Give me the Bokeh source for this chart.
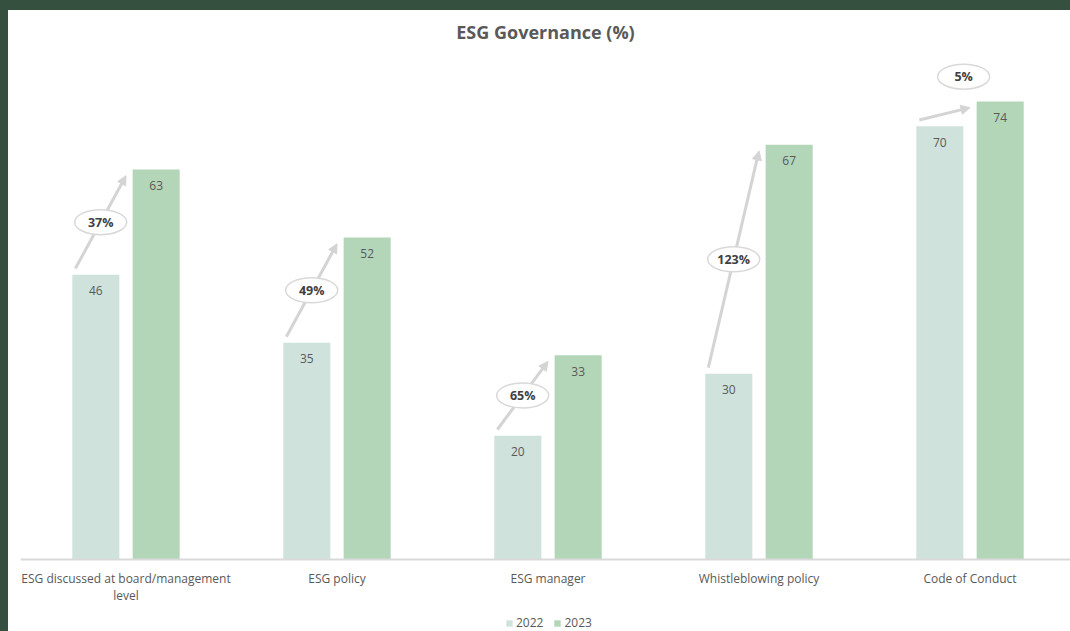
from bokeh.plotting import figure
from bokeh.models import ColumnDataSource, Range1d, Span, Arrow, NormalHead, Legend, LegendItem
from bokeh.transform import dodge
from bokeh.core.properties import value
from bokeh.embed import file_html
from bokeh.resources import INLINE

# ---- data ----
categories = ["ESG discussed at board/management\nlevel", "ESG policy", "ESG manager",
              "Whistleblowing policy", "Code of Conduct"]
values_2022 = [46, 35, 20, 30, 70]
values_2023 = [63, 52, 33, 67, 74]
change_labels = ["37%", "49%", "65%", "123%", "5%"]
series_names = ["2022", "2023"]

FONT = "Open Sans"
TXT = "#595959"
C22 = "#d0e2dc"
C23 = "#b3d6b9"
PX_PER_UNIT = 6.19

W, H = 1062, 621
left_border, top_border = 12, 40
frame_w = W - left_border
frame_h = H - top_border
cat_px = 211.0
base_from_top = 549 - top_border  # pixels from frame top to baseline

n = len(categories)
xs = list(range(n))
x_start = -0.5
x_end = x_start + frame_w / cat_px
y_end = base_from_top / PX_PER_UNIT
y_start = -(frame_h - base_from_top) / PX_PER_UNIT

OFF = 0.143
BW = 0.223

src = ColumnDataSource(dict(
    x=xs, cat=categories, v22=values_2022, v23=values_2023,
    l22=[str(v) for v in values_2022], l23=[str(v) for v in values_2023],
))

p = figure(width=W, height=H, output_backend="svg", toolbar_location=None,
           x_range=Range1d(x_start, x_end), y_range=Range1d(y_start, y_end),
           x_axis_type=None, y_axis_type=None, outline_line_color=None,
           min_border_left=left_border, min_border_right=0, min_border_top=top_border,
           min_border_bottom=0, title="ESG Governance (%)",
           styles={"background-color": "white"})
p.title.align = "center"
p.title.text_font = FONT
p.title.text_font_size = "18px"
p.title.text_font_style = "bold"
p.title.text_color = TXT
p.title.standoff = 14
p.grid.visible = False
p.background_fill_color = "white"
p.border_fill_color = "white"

# bars
r22 = p.vbar(x=dodge("x", -OFF), top="v22", width=BW, bottom=0, source=src,
             fill_color=C22, line_color=None)
r23 = p.vbar(x=dodge("x", OFF), top="v23", width=BW, bottom=0, source=src,
             fill_color=C23, line_color=None)

# baseline
p.add_layout(Span(location=0, dimension="width", line_color="#d9d9d9", line_width=2))

# value labels inside bars
for col, lab, off in (("v22", "l22", -OFF), ("v23", "l23", OFF)):
    p.text(x=dodge("x", off), y=col, text=lab, source=src, y_offset=16,
           text_align="center", text_baseline="middle", text_font=value(FONT),
           text_font_size="12px", text_color=TXT)

# category labels
p.text(x="x", y=0, text="cat", source=src, y_offset=10, text_align="center",
       text_baseline="top", text_font=value(FONT), text_font_size="12px",
       text_color=TXT, text_line_height=1.0)

# growth arrows
ax0 = [i - 0.24 for i in xs]
ay0 = [v + 1 for v in values_2022]
ax1 = [i - 0.0 for i in xs]
ay1 = [v - 1 for v in values_2023]
asrc = ColumnDataSource(dict(x0=ax0, y0=ay0, x1=ax1, y1=ay1))
p.add_layout(Arrow(source=asrc, x_start="x0", y_start="y0", x_end="x1", y_end="y1",
                   line_color="#d4d4d4", line_width=3, level="underlay",
                   end=NormalHead(size=9, fill_color="#d4d4d4", line_color="#d4d4d4")))

# change label ellipses
lx, ly = [], []
for i, a, b in zip(xs, values_2022, values_2023):
    if b - a < 10:
        lx.append(i - 0.03)
        ly.append(b + 4)
    else:
        lx.append(i - 0.12)
        ly.append((a + b) / 2)
lsrc = ColumnDataSource(dict(x=lx, y=ly, t=change_labels))
p.ellipse(x="x", y="y", width=52, height=25, width_units="screen", height_units="screen",
          source=lsrc, fill_color="white", line_color="#d9d9d9", line_width=1.5)
p.text(x="x", y="y", text="t", source=lsrc, text_align="center", text_baseline="middle",
       text_font=value(FONT), text_font_size="12.5px", text_font_style="bold",
       text_color="#404040")

legend = Legend(items=[LegendItem(label=series_names[0], renderers=[r22]),
                       LegendItem(label=series_names[1], renderers=[r23])],
                orientation="horizontal", location=(485, 0),
                glyph_width=8, glyph_height=8, label_height=12, label_standoff=3,
                spacing=10, padding=2, margin=0, border_line_color=None,
                background_fill_alpha=0, label_text_font=FONT,
                label_text_font_size="12px", label_text_color=TXT)
p.add_layout(legend)

html = file_html(p, INLINE, title="ESG Governance (%)")
style = ("<style>html,body{margin:0 !important;padding:0 !important;background:#36503f;"
         "overflow:hidden;}body{padding:10px 0 0 8px !important;}</style>")
html = html.replace("</head>", style + "</head>", 1)
open("out.html", "w").write(html)
